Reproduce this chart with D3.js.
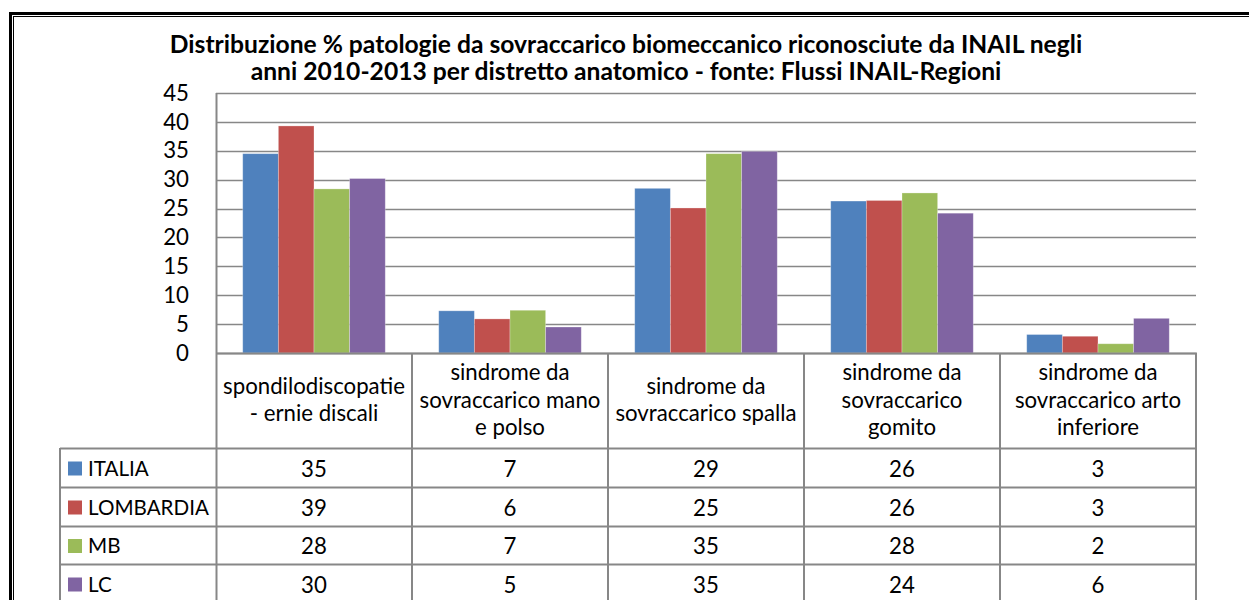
<!DOCTYPE html>
<html><head><meta charset="utf-8">
<script src="https://cdn.jsdelivr.net/npm/d3@7"></script>
<style>
body{margin:0;background:#fff}
svg{display:block}
text{font-family:Lato,"Open Sans",sans-serif;fill:#000}
</style>
</head><body>
<svg id="chart" width="1249" height="600"></svg>
<script>
// ---- data ----
const titleLines = [
  "Distribuzione % patologie da sovraccarico biomeccanico riconosciute da INAIL negli",
  "anni 2010-2013 per distretto anatomico - fonte: Flussi INAIL-Regioni"
];
const categories = [
  "spondilodiscopatie - ernie discali",
  "sindrome da sovraccarico mano e polso",
  "sindrome da sovraccarico spalla",
  "sindrome da sovraccarico gomito",
  "sindrome da sovraccarico arto inferiore"
];
const categoryLines = [
  ["spondilodiscopatie", "- ernie discali"],
  ["sindrome da", "sovraccarico mano", "e polso"],
  ["sindrome da", "sovraccarico spalla"],
  ["sindrome da", "sovraccarico", "gomito"],
  ["sindrome da", "sovraccarico arto", "inferiore"]
];
const seriesNames = ["ITALIA", "LOMBARDIA", "MB", "LC"];
const italia    = [34.5, 7.3, 28.5, 26.3, 3.2];
const lombardia = [39.3, 5.9, 25.1, 26.4, 2.9];
const mb        = [28.4, 7.4, 34.5, 27.7, 1.6];
const lc        = [30.2, 4.5, 34.9, 24.2, 6.0];
const seriesColors = ["#4F81BD", "#C0504D", "#9BBB59", "#8064A2"];
const yTicks = [0, 5, 10, 15, 20, 25, 30, 35, 40, 45];

const seriesValues = [italia, lombardia, mb, lc];
const series = seriesNames.map((n, i) => ({name: n, color: seriesColors[i], values: seriesValues[i]}));

// ---- layout ----
const svg = d3.select("#chart");
const plotL = 216, plotR = 1196, plotT = 93, plotB = 353;
const legendL = 60;
const rowTops = [448, 487, 526, 564, 603];
const gridColor = "#878787";

// font fitting helper (match widths of the reference's Calibri text)
function fitSize(str, weight, target) {
  const t = svg.append("text").attr("font-size", 20).attr("font-weight", weight).text(str);
  const w = t.node().getComputedTextLength();
  t.remove();
  return 20 * target / w;
}
const titleSize = fitSize(titleLines[0], "bold", 913);
const bodySize = fitSize("spondilodiscopatie", "normal", 182);
const legendSize = Math.min(bodySize, fitSize("LOMBARDIA", "normal", 121));

// ---- border (double line, top and left) ----
svg.append("rect").attr("x", 9).attr("y", 12).attr("width", 1300).attr("height", 3).attr("fill", "#000");
svg.append("rect").attr("x", 9).attr("y", 12).attr("width", 3).attr("height", 700).attr("fill", "#000");
svg.append("rect").attr("x", 13).attr("y", 16).attr("width", 1300).attr("height", 1).attr("fill", "#000");
svg.append("rect").attr("x", 13).attr("y", 16).attr("width", 1).attr("height", 700).attr("fill", "#000");

// ---- scales ----
const y = d3.scaleLinear().domain([0, 45]).range([plotB, plotT]);
const x0 = d3.scaleBand().domain(categories).range([plotL, plotR]).padding(0);
const bw = x0.bandwidth();
const gap = bw * 1.5 / 5.5;
const x1 = d3.scaleBand().domain(seriesNames).range([gap / 2, bw - gap / 2]).padding(0);

// ---- gridlines ----
svg.append("g").selectAll("line").data(yTicks).join("line")
  .attr("x1", plotL).attr("x2", plotR)
  .attr("y1", d => Math.round(y(d)) + 0.5).attr("y2", d => Math.round(y(d)) + 0.5)
  .attr("stroke", gridColor).attr("stroke-width", 1.5);

// ---- y axis ----
const yAxis = svg.append("g").attr("transform", `translate(${plotL},0)`)
  .call(d3.axisLeft(y).tickValues(yTicks).tickSize(0).tickPadding(27));
yAxis.select(".domain").remove();
yAxis.selectAll("text").attr("font-size", bodySize).attr("font-family", "Lato, sans-serif").attr("fill", "#000");

// ---- bars ----
const groups = svg.append("g").selectAll("g").data(categories).join("g")
  .attr("transform", d => `translate(${x0(d)},0)`);
groups.selectAll("rect").data((d, ci) => series.map(s => ({s, v: s.values[ci]}))).join("rect")
  .attr("x", d => x1(d.s.name))
  .attr("width", x1.bandwidth())
  .attr("y", d => y(d.v))
  .attr("height", d => y(0) - y(d.v))
  .attr("fill", d => d.s.color)
  .attr("stroke", "rgba(255,255,255,0.35)").attr("stroke-width", 0.8);

// ---- axis lines ----
svg.append("line").attr("x1", plotL + 0.5).attr("x2", plotL + 0.5).attr("y1", plotT).attr("y2", 600)
  .attr("stroke", gridColor).attr("stroke-width", 2);
svg.append("line").attr("x1", plotL).attr("x2", plotR + 1).attr("y1", plotB + 0.5).attr("y2", plotB + 0.5)
  .attr("stroke", gridColor).attr("stroke-width", 2);

// ---- data table ----
const tbl = svg.append("g");
tbl.selectAll("line.col").data(categories).join("line").attr("class", "col")
  .attr("x1", d => x0(d) + bw).attr("x2", d => x0(d) + bw)
  .attr("y1", plotB).attr("y2", 600)
  .attr("stroke", gridColor).attr("stroke-width", 2);
tbl.append("line").attr("x1", legendL).attr("x2", legendL).attr("y1", rowTops[0]).attr("y2", 600)
  .attr("stroke", gridColor).attr("stroke-width", 2);
tbl.selectAll("line.row").data(rowTops.slice(0, 4)).join("line").attr("class", "row")
  .attr("x1", legendL).attr("x2", plotR + 1)
  .attr("y1", d => d + 0.5).attr("y2", d => d + 0.5)
  .attr("stroke", gridColor).attr("stroke-width", 2);

// header text
const headerMid = (plotB + rowTops[0]) / 2 + 1;
const pitch = bodySize * 1.25;
categories.forEach((c, ci) => {
  const lines = categoryLines[ci];
  const cx = x0(c) + bw / 2;
  lines.forEach((ln, li) => {
    const cy = headerMid + (li - (lines.length - 1) / 2) * pitch;
    tbl.append("text").attr("x", cx).attr("y", cy + bodySize * 0.27)
      .attr("text-anchor", "middle").attr("font-size", bodySize).text(ln);
  });
});

// rows
const fmt = d3.format(".0f");
series.forEach((s, si) => {
  const top = rowTops[si], bot = rowTops[si + 1];
  const cy = (top + bot) / 2 + 1;
  tbl.append("rect").attr("x", 68).attr("y", cy - 7).attr("width", 14).attr("height", 14).attr("fill", s.color);
  tbl.append("text").attr("x", 88).attr("y", cy + legendSize * 0.36).attr("font-size", legendSize).text(s.name);
  categories.forEach((c, ci) => {
    tbl.append("text").attr("x", x0(c) + bw / 2).attr("y", cy + bodySize * 0.36)
      .attr("text-anchor", "middle").attr("font-size", bodySize).text(fmt(s.values[ci]));
  });
});

// ---- title ----
titleLines.forEach((t, i) => {
  svg.append("text").attr("x", 626).attr("y", 53 + i * 27)
    .attr("text-anchor", "middle").attr("font-weight", "bold").attr("font-size", titleSize).text(t);
});
</script>
</body></html>
